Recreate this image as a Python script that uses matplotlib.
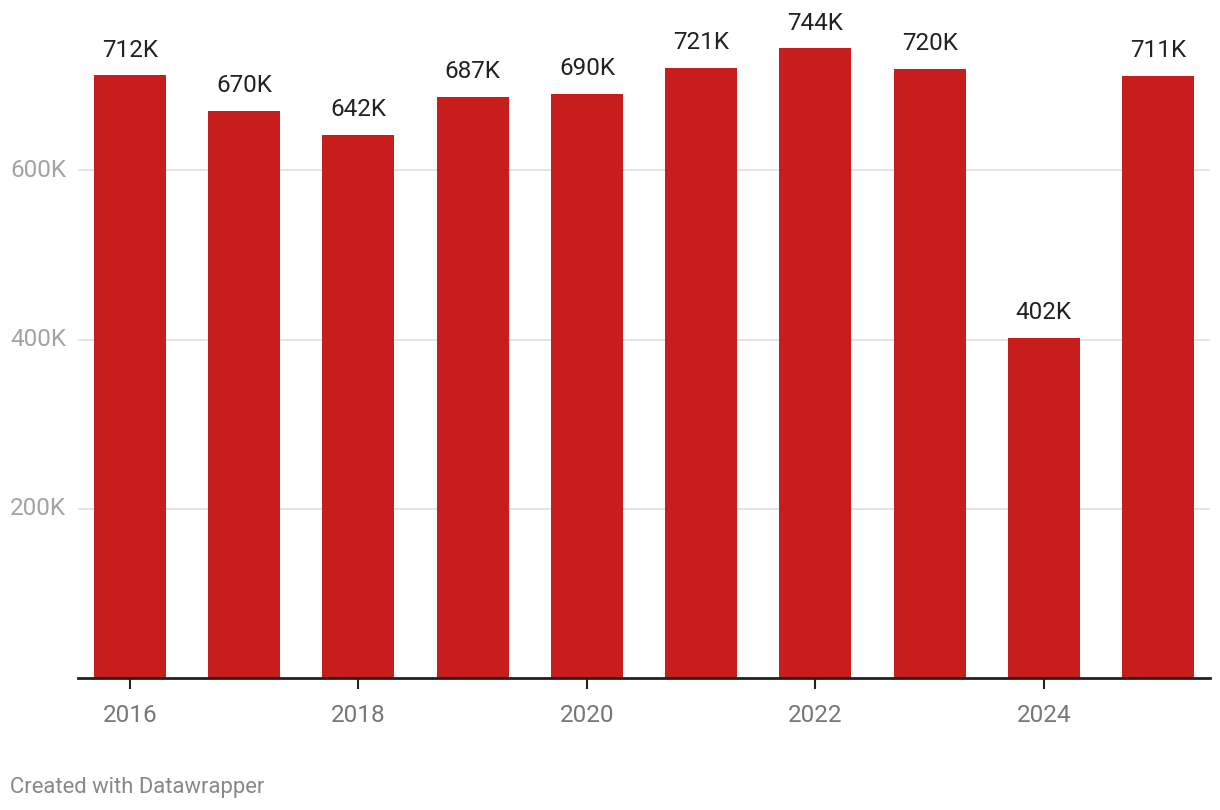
import matplotlib.pyplot as plt
from matplotlib.transforms import blended_transform_factory

years = [2016, 2017, 2018, 2019, 2020, 2021, 2022, 2023, 2024, 2025]
values = [712, 670, 642, 687, 690, 721, 744, 720, 402, 711]  # thousands
labels = ["712K", "670K", "642K", "687K", "690K", "721K", "744K", "720K", "402K", "711K"]
y_ticks = [200, 400, 600]
y_tick_labels = ["200K", "400K", "600K"]
x_ticks = [2016, 2018, 2020, 2022, 2024]

plt.rcParams["font.family"] = ["Roboto", "DejaVu Sans"]

fig = plt.figure(figsize=(12.2, 8.1), dpi=100)
ax = fig.add_axes([78 / 1220, 1 - 678 / 810, 1132 / 1220, 677 / 810])

ax.bar(years, values, width=0.63, color="#c71d1d", zorder=3)
ax.set_xlim(2015.545, 2025.455)
ax.set_ylim(0, 800)

# gridlines
for t in y_ticks:
    ax.axhline(t, color="#e3e3e3", lw=1.3, zorder=1)
ax.axhline(0, color="#222222", lw=2, zorder=4, clip_on=False)

# y labels at the far left
trans = blended_transform_factory(fig.transFigure, ax.transData)
for t, lab in zip(y_ticks, y_tick_labels):
    ax.text(10 / 1220, t, lab, transform=trans, ha="left", va="center",
            fontsize=17.5, color="#a3a3a3")

# value labels
for x, v, lab in zip(years, values, labels):
    ax.annotate(lab, (x, v), xytext=(0, 10), textcoords="offset points",
                ha="center", va="bottom", fontsize=17.5, color="#222222")

ax.set_yticks([])
ax.set_xticks(x_ticks)
ax.set_xticklabels([str(x) for x in x_ticks])
ax.tick_params(axis="x", length=8, width=1.5, color="#222222", pad=11,
               labelsize=17.5, labelcolor="#777777")
for s in ax.spines.values():
    s.set_visible(False)

fig.text(10 / 1220, 1 - 787 / 810, "Created with Datawrapper", ha="left",
         va="center", fontsize=15.8, color="#888888")

fig.savefig("out.png", dpi=100)
